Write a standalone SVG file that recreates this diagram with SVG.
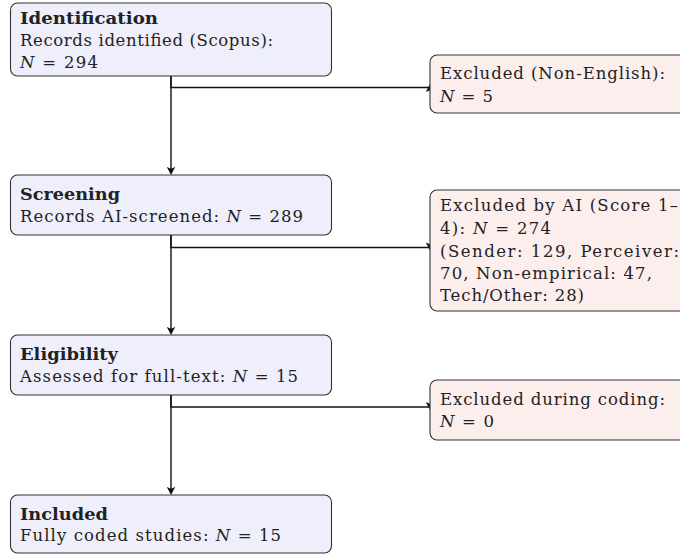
<svg xmlns="http://www.w3.org/2000/svg" width="680" height="556" viewBox="0 0 680 556">
<style>
  text { font-family: "DejaVu Serif", "Liberation Serif", serif; font-size: 16.5px; fill: #222; }
  .b { font-weight: bold; }
  .i { font-style: italic; }
  .stage { fill: #EFEFFB; stroke: #333; stroke-width: 1.1; }
  .excl { fill: #FDEEEE; stroke: #333; stroke-width: 1.1; }
  .conn { fill: none; stroke: #111; stroke-width: 1.4; marker-end: url(#arr); }
</style>
<defs>
  <marker id="arr" markerUnits="userSpaceOnUse" markerWidth="14" markerHeight="14" viewBox="-8 -7 14 14" refX="0" refY="0" orient="auto">
    <path d="M-6,-4.2 L2,0 L-6,4.2 L-4.2,0 z" fill="#111"/>
  </marker>
</defs>
<g id="connectors">
  <path class="conn" d="M171,76 V173"/>
  <path class="conn" d="M171,76 V87.5 H430 V86"/>
  <path class="conn" d="M171,235 V333"/>
  <path class="conn" d="M171,235 V247.5 H430 V248.5"/>
  <path class="conn" d="M171,395 V493"/>
  <path class="conn" d="M171,395 V407 H430 V408"/>
</g>
<g id="identification">
  <rect class="stage" x="10.5" y="3" width="321" height="73" rx="7"/>
  <text class="b" x="20" y="24" textLength="138" lengthAdjust="spacingAndGlyphs">Identification</text>
  <text x="20" y="46" textLength="253" lengthAdjust="spacing">Records identified (Scopus):</text>
  <text x="20" y="68" textLength="78" lengthAdjust="spacing"><tspan class="i">N</tspan> = 294</text>
</g>
<g id="excluded-non-english">
  <rect class="excl" x="430" y="55" width="270" height="58" rx="7"/>
  <text x="440" y="79" textLength="225" lengthAdjust="spacing">Excluded (Non-English):</text>
  <text x="440" y="102" textLength="53" lengthAdjust="spacing"><tspan class="i">N</tspan> = 5</text>
</g>
<g id="screening">
  <rect class="stage" x="10.5" y="175" width="321" height="60" rx="7"/>
  <text class="b" x="20" y="200" textLength="100" lengthAdjust="spacingAndGlyphs">Screening</text>
  <text x="20" y="222" textLength="283" lengthAdjust="spacing">Records AI-screened:  <tspan class="i">N</tspan> = 289</text>
</g>
<g id="excluded-ai">
  <rect class="excl" x="430" y="190" width="270" height="121" rx="7"/>
  <text x="440" y="211" textLength="238" lengthAdjust="spacing">Excluded by AI (Score 1–</text>
  <text x="440" y="234" textLength="111" lengthAdjust="spacing">4):  <tspan class="i">N</tspan> = 274</text>
  <text x="440" y="256.5" textLength="239" lengthAdjust="spacing">(Sender: 129, Perceiver:</text>
  <text x="440" y="279" textLength="212" lengthAdjust="spacing">70, Non-empirical: 47,</text>
  <text x="440" y="301" textLength="144" lengthAdjust="spacing">Tech/Other: 28)</text>
</g>
<g id="eligibility">
  <rect class="stage" x="10.5" y="335" width="321" height="60" rx="7"/>
  <text class="b" x="20" y="360" textLength="98" lengthAdjust="spacingAndGlyphs">Eligibility</text>
  <text x="20" y="382" textLength="278" lengthAdjust="spacing">Assessed for full-text:  <tspan class="i">N</tspan> = 15</text>
</g>
<g id="excluded-coding">
  <rect class="excl" x="430" y="380" width="270" height="60" rx="7"/>
  <text x="440" y="405" textLength="225" lengthAdjust="spacing">Excluded during coding:</text>
  <text x="440" y="427" textLength="54" lengthAdjust="spacing"><tspan class="i">N</tspan> = 0</text>
</g>
<g id="included">
  <rect class="stage" x="10.5" y="495" width="321" height="58" rx="7"/>
  <text class="b" x="20" y="520" textLength="88" lengthAdjust="spacingAndGlyphs">Included</text>
  <text x="20" y="541" textLength="261" lengthAdjust="spacing">Fully coded studies:  <tspan class="i">N</tspan> = 15</text>
</g>
</svg>
